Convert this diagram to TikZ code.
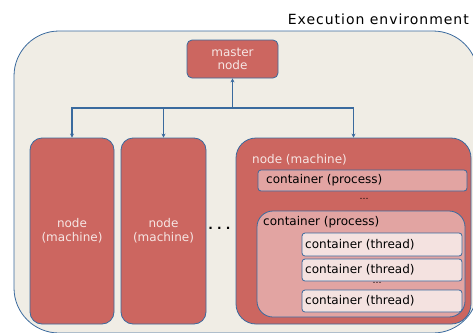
\documentclass[tikz,border=0pt]{standalone}
\usepackage{fontspec}
\setmainfont{DejaVu Sans}
\newfontfamily\widesans[LetterSpace=7]{DejaVu Sans}
\usetikzlibrary{arrows.meta}
\definecolor{envbg}{HTML}{F0EDE5}
\definecolor{edgeblue}{HTML}{3A6A9E}
\definecolor{machred}{HTML}{CC6660}
\definecolor{procpink}{HTML}{E2A4A2}
\definecolor{threadpink}{HTML}{F4E2E0}
\definecolor{lighttext}{HTML}{F6E6E4}
\tikzset{
  box/.style={draw=edgeblue, line width=0.8pt, inner sep=0pt},
  machine/.style={box, fill=machred, rounded corners=12pt, text=lighttext, align=center, font=\fontsize{12}{14}\selectfont},
  proc/.style={box, fill=procpink, rounded corners=3pt},
  thread/.style={box, fill=threadpink, rounded corners=3pt},
  lbl/.style={inner sep=0pt, anchor=west, font=\fontsize{12}{14}\selectfont},
  link/.style={draw=edgeblue, line width=1.3pt, -{Stealth[length=4pt,width=4pt]}},
}
\begin{document}
\begin{tikzpicture}[x=1pt, y=-1pt]
\useasboundingbox (0,0) rectangle (473,332);
\begin{scope}
\clip (0,0) rectangle (473,332);
% execution environment
\draw[draw=edgeblue, line width=0.8pt, fill=envbg, rounded corners=45pt] (14,31) rectangle (478,333);
\end{scope}
\node[anchor=base east, inner sep=0pt, font=\widesans\fontsize{14}{16}\selectfont] (envlabel) at (469,24.5) {Execution environment};

% master
\node[machine, rounded corners=5pt, minimum width=91pt, minimum height=38pt] (master) at (232.5,59) {master\\[-1pt]node};

% machines
\node[machine, minimum width=84pt, minimum height=186pt] (n1) at (72,231) {node\\[0pt](machine)};
\node[machine, minimum width=85pt, minimum height=186pt] (n2) at (163.5,231) {node\\[0pt](machine)};
\node[inner sep=0pt, font=\bfseries\fontsize{12}{12}\selectfont] (ndots) at (219.5,228.5) {.\ .\ .};
\node[machine, rounded corners=20pt, minimum width=235pt, minimum height=186pt] (n3) at (353.5,231) {};
\node[lbl, text=lighttext] (n3label) at (252,160) {node (machine)};

% processes
\node[proc, minimum width=209pt, minimum height=21pt] (p1) at (362.5,180.5) {};
\node[lbl] (p1label) at (266,180.5) {container (process)};
\node[inner sep=0pt, font=\fontsize{9}{9}\selectfont] (pdots) at (364,199) {\dots};
\node[proc, rounded corners=16pt, minimum width=208pt, minimum height=106pt] (p2) at (361,264) {};
\node[lbl] (p2label) at (263,222) {container (process)};

% threads
\node[thread, minimum width=160pt, minimum height=23pt] (t1) at (382,244.5) {};
\node[lbl] (t1label) at (305,244.5) {container (thread)};
\node[thread, minimum width=160pt, minimum height=22pt] (t2) at (382,270) {};
\node[lbl] (t2label) at (305,270) {container (thread)};
\node[inner sep=0pt, font=\fontsize{9}{9}\selectfont] (tdots) at (377,283) {\dots};
\node[thread, minimum width=160pt, minimum height=22pt] (t3) at (382,301) {};
\node[lbl] (t3label) at (305,301) {container (thread)};

% connectors
\coordinate (hub) at (master.south |- 0,108);
\coordinate (barL) at (n1.north |- hub);
\coordinate (barR) at (n3.north |- hub);
\draw[draw=edgeblue, line width=1.3pt, line cap=rect] (barL) -- (barR);
\draw[link] (hub) -- (master.south);
\draw[link] (barL) -- (n1.north);
\draw[link] (n2.north |- hub) -- (n2.north);
\draw[link] (barR) -- (n3.north);
\end{tikzpicture}
\end{document}
